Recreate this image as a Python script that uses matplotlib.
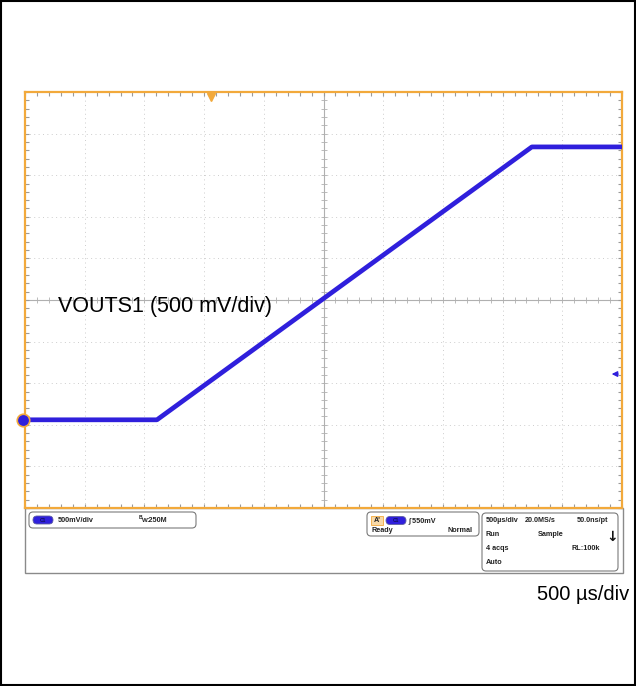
import matplotlib
matplotlib.use('Agg')
import matplotlib.pyplot as plt
from matplotlib.patches import Rectangle, FancyBboxPatch
from matplotlib.ticker import MultipleLocator

# scope settings
volts_per_div = 0.5      # V
time_per_div = 500.0     # us
ground_div = -2.88       # channel 1 ground marker (divisions from centre)
trig_level = 0.55        # V
trig_pos_div = 3.12      # trigger position marker (divisions from left)

# VOUTS1 trace breakpoints
t_us = [0, 1105, 4245, 5000]
v_out = [0.0, 0.0, 3.28, 3.28]

label_trace = 'VOUTS1 (500 mV/div)'
label_time = '500 µs/div'

blue = '#2f1fdc'
orange = '#f2a93b'
tickgray = '#9a9a9a'

W, H = 636, 686
fig = plt.figure(figsize=(W / 100, H / 100), dpi=100)
plt.rcParams['font.family'] = ['Liberation Sans', 'DejaVu Sans']


def fx(px):
    return px / W


def fy(py):
    return 1 - py / H


# ---- graticule ----
left, right, top, bottom = 25, 622, 92, 508
ax = fig.add_axes([fx(left), fy(bottom), fx(right - left), (bottom - top) / H])
ax.set_xlim(0, 10)
ax.set_ylim(-5, 5)
for s in ax.spines.values():
    s.set_color(orange)
    s.set_linewidth(1.6)
ax.xaxis.set_major_locator(MultipleLocator(0.2))
ax.yaxis.set_major_locator(MultipleLocator(0.2))
ax.tick_params(which='both', direction='in', length=3, width=0.8, color=tickgray,
               top=True, right=True, labelbottom=False, labelleft=False)

for i in range(1, 10):
    if i != 5:
        ax.axvline(i, color='#cdcdcd', lw=0.7, ls=(0, (1, 3.5)), zorder=1)
for j in range(-4, 5):
    if j != 0:
        ax.axhline(j, color='#cdcdcd', lw=0.7, ls=(0, (1, 3.5)), zorder=1)

ax.axvline(5, color='#b0b0b0', lw=0.8, zorder=1)
ax.axhline(0, color='#b0b0b0', lw=0.8, zorder=1)
pos = [k * 0.2 for k in range(51)]
ax.plot(pos, [0] * len(pos), ls='none', marker='|', ms=4, mew=0.6, color='#b0b0b0', zorder=1)
posy = [-5 + k * 0.2 for k in range(51)]
ax.plot([5] * len(posy), posy, ls='none', marker='_', ms=4, mew=0.6, color='#b0b0b0', zorder=1)

# ---- trace ----
xs = [t / time_per_div for t in t_us]
ys = [v / volts_per_div + ground_div for v in v_out]
ax.plot(xs, ys, color=blue, lw=3.4, solid_capstyle='butt', zorder=3)

# markers
ax.plot([-0.04], [ground_div], marker='o', ms=9, mfc=blue, mec=orange, mew=1.2,
        clip_on=False, zorder=5)
ax.plot([trig_pos_div], [4.88], marker='v', ms=6, color=orange, clip_on=False, zorder=5)
lvl = ground_div + trig_level / volts_per_div
ax.annotate('', xy=(9.78, lvl), xytext=(9.98, lvl),
            arrowprops=dict(arrowstyle='-|>', color=blue, lw=1.0, mutation_scale=8))

ax.text(0.55, -0.15, label_trace, fontsize=15.5, color='black', ha='left', va='center')

# ---- overlay for status bar and frame ----
ov = fig.add_axes([0, 0, 1, 1], zorder=-1)
ov.set_xlim(0, W)
ov.set_ylim(H, 0)
ov.axis('off')

ov.add_patch(Rectangle((1, 1), W - 2, H - 2, fill=False, ec='black', lw=1.5))
ov.add_patch(Rectangle((25, 508), 598, 65, fill=False, ec='#8a8a8a', lw=1.0))


def rbox(x, y, w, h, r=4, fc='white', ec='#7a7a7a', lw=0.8):
    ov.add_patch(FancyBboxPatch((x, y), w, h, boxstyle=f'round,pad=0,rounding_size={r}',
                                fc=fc, ec=ec, lw=lw))


def pill(x, y):
    ov.add_patch(FancyBboxPatch((x, y - 4), 20, 8, boxstyle='round,pad=0,rounding_size=4',
                                fc=blue, ec='#6060a0', lw=0.6))
    ov.text(x + 10, y, 'C1', fontsize=3.5, color='#10105a', ha='center', va='center',
            fontweight='bold')


fs = 5.2
tkw = dict(fontsize=fs, fontweight='bold', color='#222222', va='center')

# channel box
rbox(29, 512, 167, 16)
pill(33, 520)
ov.text(58, 520, '500mV/div', ha='left', **tkw)
ov.text(139, 517.5, 'B', ha='left', fontsize=3.6, fontweight='bold', color='#222222', va='center')
ov.text(141.5, 521, 'W', ha='left', fontsize=4.4, fontweight='bold', color='#222222', va='center')
ov.text(146.5, 520, ':250M', ha='left', **tkw)

# trigger box
rbox(367, 512, 112, 24)
ov.add_patch(Rectangle((371, 516), 12, 9, fc='#f7d9a8', ec=orange, lw=0.6))
ov.text(377, 520.5, "A'", ha='center', **tkw)
pill(386, 520.5)
ov.text(408, 520.5, '\u222b 550mV', ha='left', **tkw)
ov.text(372, 531, 'Ready', ha='left', **tkw)
ov.text(472, 531, 'Normal', ha='right', **tkw)

# acquisition box
rbox(482, 513, 136, 58)
ov.text(486, 521, '500µs/div', ha='left', **tkw)
ov.text(525, 521, '20.0MS/s', ha='left', **tkw)
ov.text(608, 521, '50.0ns/pt', ha='right', **tkw)
ov.text(486, 535, 'Run', ha='left', **tkw)
ov.text(538, 535, 'Sample', ha='left', **tkw)
ov.text(612, 537, '\u2193', ha='center', fontsize=10, fontweight='bold', color='#111111',
        va='center', family='DejaVu Sans')
ov.text(486, 549, '4 acqs', ha='left', **tkw)
ov.text(572, 549, 'RL:100k', ha='left', **tkw)
ov.text(486, 563, 'Auto', ha='left', **tkw)

ov.text(629, 594, label_time, fontsize=14.5, color='black', ha='right', va='center')

fig.savefig('out.png', dpi=100)
